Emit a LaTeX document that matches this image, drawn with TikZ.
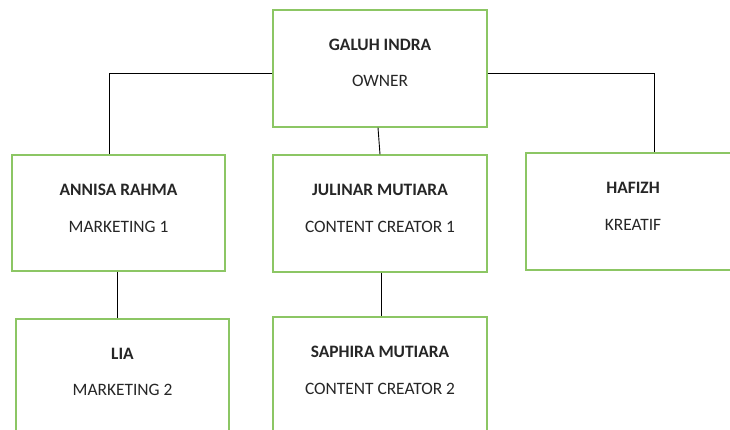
\documentclass[tikz,border=0pt]{standalone}
\usepackage{fontspec}
\setmainfont{Carlito}
\usepackage{tikz}
\definecolor{boxgreen}{RGB}{140,198,100}
\definecolor{inkgray}{RGB}{38,38,38}

\begin{document}
\begin{tikzpicture}[x=1pt,y=-1pt,
  box/.style={draw=boxgreen,line width=1.3pt,fill=white,minimum width=214pt,minimum height=117pt,inner sep=0pt},
  who/.style={text=inkgray,font=\fontsize{17.4}{20}\selectfont\bfseries},
  job/.style={text=inkgray,font=\fontsize{17.4}{20}\selectfont},
  link/.style={draw=black,line width=0.9pt}]
\clip (0,0) rectangle (730,429);
\fill[white] (0,0) rectangle (730,429);

% boxes
\node[box] (owner) at (380,68.5) {};
\node[box,minimum width=213pt,minimum height=116pt] (annisa) at (118.5,213) {};
\node[box] (julinar) at (380,213.5) {};
\node[box] (hafizh) at (633,211.5) {};
\node[box,minimum width=213pt] (lia) at (122.5,377.5) {};
\node[box] (saphira) at (380,375.5) {};

% texts
\node[who] (ownerN) at (380,45) {GALUH INDRA};
\node[job] (ownerR) at (380,81) {OWNER};
\node[who] (annisaN) at (118.5,190) {ANNISA RAHMA};
\node[job] (annisaR) at (118.5,227) {MARKETING 1};
\node[who] (julinarN) at (380,190) {JULINAR MUTIARA};
\node[job] (julinarR) at (380,227) {CONTENT CREATOR 1};
\node[who] (hafizhN) at (633,188) {HAFIZH};
\node[job] (hafizhR) at (633,225) {KREATIF};
\node[who] (liaN) at (122.5,354) {LIA};
\node[job] (liaR) at (122.5,390) {MARKETING 2};
\node[who] (saphiraN) at (380,352) {SAPHIRA MUTIARA};
\node[job] (saphiraR) at (380,389) {CONTENT CREATOR 2};

% lines
\draw[link] ([yshift=-4.5pt]owner.west) -| ([xshift=-9pt]annisa.north);
\draw[link] ([yshift=-4.5pt]owner.east) -| ([xshift=21.5pt]hafizh.north);
\draw[link] ([xshift=-2pt]owner.south) -- (julinar.north);
\draw[link] ([xshift=-1.5pt]annisa.south) -- ([xshift=-5.5pt]lia.north);
\draw[link] ([xshift=1pt]julinar.south) -- ([xshift=1pt]saphira.north);
\end{tikzpicture}
\end{document}
